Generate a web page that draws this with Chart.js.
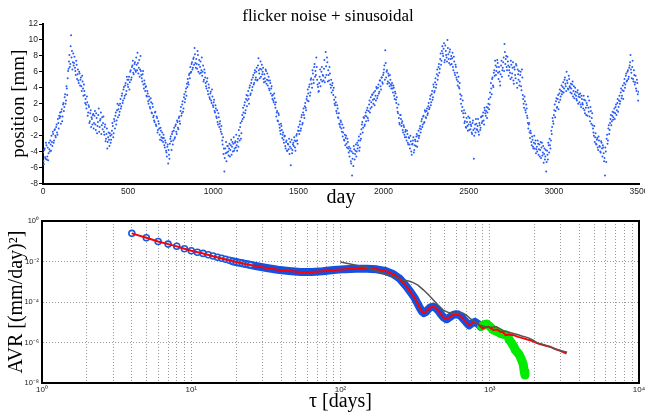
<!DOCTYPE html>
<html>
<head>
<meta charset="utf-8">
<script src="https://cdn.jsdelivr.net/npm/chart.js@4.4.0/dist/chart.umd.min.js"></script>
<style>
  body { margin: 0; background: #fff; }
  canvas { position: absolute; left: 0; }
  #top { top: 0; }
  #bottom { top: 205px; }
</style>
</head>
<body>
<canvas id="top" width="645" height="215"></canvas>
<canvas id="bottom" width="645" height="210"></canvas>
<script>
// top panel: position, two interleaved samplings (every 5 days)
const dayStep = 5;
const position = [
  -4.1,-5.6,-3.6,-4.9,-3.2,-4.6,-5.1,-2.9,-4.0,-3.1,
  -2.0,-3.3,-1.8,-2.6,-1.2,-2.2,-0.6,-1.9,-0.4,0.5,
  0.9,-0.5,1.3,0.4,2.1,1.6,3.2,2.4,3.9,5.2,
  6.4,8.1,7.0,10.6,8.6,7.2,6.8,7.9,6.1,7.4,
  5.1,6.3,4.6,5.8,5.0,4.2,5.5,3.9,4.4,3.1,
  2.6,1.4,2.2,0.9,1.6,-0.2,1.2,0.3,-0.6,0.7,
  -0.4,1.1,-1.3,0.2,-0.8,0.6,-1.5,-0.1,0.9,-0.7,
  -1.2,0.4,-1.9,-0.6,-2.4,-1.1,-2.8,-1.6,-3.3,-2.0,
  -2.5,-1.4,-0.8,-1.7,-0.2,0.5,-0.6,1.2,0.3,1.8,
  1.0,2.6,1.7,3.3,2.4,4.1,3.0,4.6,3.6,5.0,
  4.1,5.4,4.7,6.2,5.3,6.8,5.9,6.4,7.2,6.0,
  6.9,8.4,5.8,7.5,6.3,6.1,5.2,5.7,4.4,4.9,
  3.6,4.2,2.9,3.3,2.0,2.5,1.4,2.2,0.8,1.6,
  0.5,-0.3,1.0,-0.8,0.2,-1.3,-0.5,-1.9,-1.0,-2.2,
  -1.6,-2.8,-2.3,-3.5,-2.9,-4.1,-3.4,-5.5,-4.4,-3.0,
  -2.1,-3.8,-1.5,-2.6,-1.0,-2.2,-0.6,-1.8,-0.3,-1.2,
  0.4,-0.5,1.6,0.8,2.3,1.4,3.2,2.6,3.9,4.5,
  5.1,4.4,5.8,6.6,6.0,7.2,6.5,7.8,9.0,7.1,
  7.6,6.4,8.1,6.9,5.8,7.3,6.2,5.5,6.8,5.0,
  5.9,4.6,3.9,5.2,3.2,4.0,2.6,3.5,2.1,2.9,
  1.6,2.5,0.9,1.4,0.2,-0.3,0.8,-0.9,-0.2,-1.5,
  -1.8,-3.1,-4.3,-6.5,-3.6,-2.8,-4.1,-3.3,-4.5,-3.0,
  -3.8,-2.5,-3.4,-4.0,-2.2,-3.6,-2.7,-1.9,-3.9,-2.4,
  -1.3,-2.6,-0.4,-1.7,0.6,1.5,0.3,2.2,1.2,3.1,
  2.4,3.6,2.0,4.3,3.3,5.0,4.1,5.6,4.6,6.2,
  5.3,6.5,5.0,7.7,5.8,6.4,5.4,6.9,6.0,5.1,
  5.7,4.8,6.1,5.0,4.3,5.4,3.7,4.6,3.9,3.0,
  3.1,2.2,2.7,1.5,0.4,1.1,-0.2,0.6,-1.0,-1.8,
  -0.8,-2.3,-1.6,-2.9,-2.0,-3.6,-2.6,-3.9,-3.1,-2.4,
  -3.4,-5.7,-2.5,-3.8,-2.9,-2.2,-3.5,-2.7,-1.8,-3.0,
  -0.9,-1.8,-0.2,-1.1,0.6,-0.4,1.4,0.2,2.1,1.2,
  2.9,3.8,2.3,4.4,3.4,5.2,4.0,5.8,4.6,7.0,
  6.1,7.8,5.0,4.1,3.6,5.4,4.2,6.0,4.8,5.5,
  6.4,4.7,8.5,5.6,7.2,6.2,4.9,5.8,4.0,3.4,
  4.6,3.1,2.5,1.8,2.2,0.8,1.4,0.2,-0.5,-0.9,
  -0.3,-1.5,-2.1,-1.0,-2.6,-3.2,-2.0,-3.5,-2.8,-4.1,
  -4.6,-3.6,-5.5,-7.0,-4.2,-3.3,-5.0,-3.9,-4.6,-2.9,
  -3.2,-2.1,-3.5,-1.8,-1.2,-0.3,-1.0,0.2,-0.6,0.9,
  0.4,1.5,-0.1,1.9,0.9,2.8,1.6,3.2,2.0,2.6,
  3.6,2.4,3.9,3.0,4.4,3.5,4.9,3.8,5.3,4.5,
  5.9,6.8,8.7,5.3,6.2,4.8,5.5,4.2,5.0,3.9,
  4.6,3.4,4.0,2.6,3.3,2.1,1.5,0.8,0.2,-0.6,
  0.6,-0.8,-0.2,-1.6,-0.9,-2.2,-1.3,-2.6,-1.8,-3.1,
  -2.3,-3.6,-2.7,-4.4,-3.0,-2.2,-3.8,-2.5,-3.3,-1.8,
  -2.7,-1.4,-2.0,-0.8,-1.2,0.1,-0.6,0.5,-0.3,1.0,
  0.2,1.4,0.8,2.1,1.5,3.0,2.2,3.6,2.8,4.1,
  3.6,5.2,4.4,6.3,5.5,7.0,6.4,8.3,7.4,9.2,
  8.0,9.6,7.5,8.6,7.8,10.0,8.2,7.1,8.8,7.6,
  7.0,8.4,6.2,7.3,5.6,6.6,5.0,4.3,5.4,3.9,
  3.2,2.0,1.1,2.4,0.3,-0.4,0.8,-1.0,-0.3,-1.4,
  -0.6,0.2,-1.2,-0.8,-1.8,-0.1,-4.9,-1.1,-1.6,-0.5,
  -1.3,0.1,-1.9,-0.7,-1.0,0.4,-0.2,0.9,-0.6,1.2,
  0.5,1.6,0.9,2.0,1.3,3.4,4.6,3.2,5.3,4.1,
  6.2,7.4,5.6,6.6,7.1,5.1,6.0,4.3,6.8,5.4,
  6.5,7.8,9.5,7.0,8.0,6.2,7.3,5.5,6.6,5.1,
  6.9,5.8,7.2,4.5,6.3,5.2,6.8,4.0,5.7,6.1,
  4.8,6.0,3.7,5.3,2.6,1.5,2.3,0.9,1.4,0.2,
  -1.1,-0.4,-2.3,-1.7,-3.2,-2.5,-3.6,-2.0,-3.0,-4.2,
  -3.4,-2.6,-4.4,-3.1,-3.8,-4.8,-2.9,-4.1,-5.4,-3.6,
  -4.6,-6.5,-3.9,-5.0,-3.2,-2.4,-3.6,-1.4,-0.9,-0.2,
  0.6,1.9,1.1,2.7,1.6,3.1,2.2,3.8,2.9,4.3,
  3.5,4.7,3.9,5.3,4.2,6.0,4.6,3.8,5.1,4.0,
  4.5,3.3,4.8,3.6,2.7,4.0,3.0,2.4,3.7,2.9,
  2.2,3.3,1.6,2.6,1.9,3.0,1.2,2.4,0.6,1.8,
  2.9,1.0,0.4,1.6,-0.5,0.8,-1.1,-2.0,-2.8,-1.7,
  -3.1,-2.3,-3.8,-2.6,-3.4,-4.1,-2.9,-4.6,-3.5,-5.2,
  -7.0,-4.0,-2.4,-3.0,-1.1,-1.8,-0.4,0.6,-0.2,1.0,
  0.3,1.4,0.8,1.9,1.2,2.6,1.6,3.0,2.3,3.9,
  3.0,4.3,3.6,5.1,4.4,5.8,4.9,6.2,5.4,6.8,
  8.1,5.9,6.6,5.1,6.2,4.4,5.5,3.6,4.6,2.4
];
// second sampling, half a step later
const positionB = [
  -5.2,-3.8,-4.7,-2.9,-5.0,-3.5,-4.2,-3.7,-2.6,-3.9,
  -2.8,-1.5,-2.9,-1.3,-2.0,-0.9,-1.6,0.1,-1.1,0.2,
  0.4,1.0,-0.2,1.9,1.1,2.8,2.0,4.2,3.1,6.1,
  7.3,6.6,9.2,7.8,6.3,8.3,7.1,6.5,5.6,6.9,
  5.7,4.9,6.0,4.3,5.3,3.6,4.8,3.0,3.6,2.1,
  1.9,2.9,0.5,1.8,-0.4,0.8,-0.9,0.1,0.6,-1.1,
  0.5,-0.6,0.8,-1.7,-0.3,1.4,-0.9,0.1,-1.8,0.3,
  -0.4,-1.5,-0.9,-2.7,-1.8,-3.6,-2.2,-2.5,-1.7,-2.9,
  -1.9,-0.4,-2.2,0.1,-1.1,0.9,-0.1,2.0,1.3,0.6,
  2.0,1.4,3.0,2.1,3.8,2.7,4.3,3.2,5.4,4.4,
  5.0,3.8,6.0,5.0,6.6,7.4,5.7,7.0,6.2,7.8,
  6.2,7.1,6.5,5.4,8.0,5.6,4.8,6.1,3.9,4.5,
  4.1,3.0,3.6,2.3,2.9,1.6,2.7,0.9,2.0,0.3,
  -0.1,0.9,-0.6,0.4,-1.6,-0.2,-1.1,-2.5,-1.4,-2.6,
  -2.3,-1.9,-3.2,-2.6,-3.9,-4.6,-3.1,-3.8,-4.9,-2.4,
  -2.7,-1.8,-3.1,-1.4,-2.4,-0.8,-1.5,-0.1,-1.0,0.2,
  -0.2,1.1,0.5,1.9,1.0,2.8,2.2,3.5,3.0,4.1,
  4.7,5.6,5.2,5.9,7.0,6.3,7.6,6.9,8.2,6.5,
  7.0,8.6,6.0,7.5,6.6,5.9,7.8,6.0,4.8,6.3,
  5.3,4.2,4.8,3.6,4.4,2.8,3.3,2.4,3.8,1.8,
  2.2,1.1,1.8,0.4,1.2,-0.6,0.3,-0.5,-1.2,-0.8,
  -2.6,-2.2,-3.6,-4.8,-4.2,-5.2,-3.3,-4.0,-3.6,-4.6,
  -3.2,-4.4,-2.8,-3.0,-3.9,-2.9,-3.5,-3.2,-2.8,-3.4,
  -2.0,-0.9,-2.4,-0.2,0.1,0.9,1.8,0.8,2.6,1.7,
  3.0,2.6,4.0,3.1,4.6,3.7,5.3,4.4,5.9,5.0,
  6.0,4.9,6.8,6.2,5.2,7.3,6.3,5.7,6.5,4.7,
  5.2,6.3,4.5,5.8,4.9,3.9,4.9,3.3,4.2,2.6,
  2.4,3.3,1.9,2.2,0.9,-0.1,0.8,-0.6,-1.4,-0.5,
  -1.3,-1.9,-2.5,-2.1,-3.3,-2.8,-3.9,-3.0,-3.7,-4.3,
  -2.8,-3.6,-4.2,-3.1,-3.3,-2.6,-3.9,-2.0,-2.6,-1.4,
  -1.4,-0.6,-1.4,0.3,-0.6,0.9,0.6,1.7,1.5,2.6,
  2.4,3.3,4.1,3.0,5.0,4.5,6.2,5.0,6.6,5.4,
  5.6,6.6,4.4,3.5,4.6,6.3,5.0,6.6,5.6,4.9,
  7.5,5.3,6.7,7.8,4.8,5.6,6.6,4.4,5.0,4.3,
  3.7,4.0,2.0,2.8,1.1,1.8,0.3,0.8,-0.6,-0.1,
  -1.1,-0.6,-1.6,-2.5,-1.9,-2.3,-3.0,-2.4,-3.6,-3.4,
  -3.9,-5.2,-4.0,-4.9,-5.8,-3.7,-4.3,-3.1,-4.0,-3.6,
  -2.6,-3.9,-2.6,-2.4,-0.6,-1.6,0.3,-0.8,0.5,-0.2,
  1.2,0.2,1.1,2.4,1.4,2.2,3.1,2.5,3.4,1.8,
  3.0,4.1,2.7,4.0,3.3,4.9,4.2,5.3,4.7,5.6,
  6.3,5.0,7.1,6.0,4.5,5.8,4.6,5.6,4.4,4.3,
  3.9,4.3,3.0,3.5,2.5,2.8,1.0,1.9,-0.4,0.6,
  0.1,-0.4,-1.3,-0.7,-1.9,-1.5,-2.2,-1.4,-2.9,-2.2,
  -3.1,-2.0,-4.0,-3.1,-2.6,-4.1,-3.2,-2.7,-2.1,-3.4,
  -2.0,-2.3,-1.1,-1.6,-0.2,-0.9,0.4,-0.4,1.2,0.3,
  1.1,0.6,1.7,1.3,2.6,1.8,3.2,2.5,4.4,3.4,
  4.7,4.0,5.7,5.0,6.6,5.9,7.6,6.9,8.6,8.3,
  8.9,7.2,9.3,8.1,7.3,9.0,7.6,8.5,6.9,8.0,
  7.7,6.6,7.9,5.9,6.9,5.3,5.9,4.8,4.1,4.6,
  2.6,3.0,1.6,0.8,1.2,-0.2,-0.9,0.2,-0.8,0.4,
  -1.3,-0.3,-0.6,-1.6,-0.4,-1.3,-2.0,-0.6,0.1,-1.2,
  -0.8,-1.5,-0.4,-1.3,0.3,-0.4,0.5,-0.1,1.5,0.8,
  1.1,0.2,1.5,2.6,1.9,2.8,3.9,5.1,4.3,5.9,
  5.5,6.8,6.1,7.5,5.9,6.6,4.8,5.7,7.4,6.2,
  7.2,6.1,8.5,7.6,6.6,7.9,6.8,6.2,5.9,7.4,
  5.3,6.5,4.9,6.6,5.6,7.0,4.6,6.3,5.0,4.3,
  5.6,4.2,6.3,3.1,2.0,2.9,1.2,1.9,0.5,-0.4,
  -0.6,-1.6,-1.4,-2.8,-2.1,-3.4,-2.9,-3.6,-2.6,-3.7,
  -4.0,-3.0,-3.7,-4.6,-2.8,-3.5,-4.5,-3.3,-4.3,-5.0,
  -3.8,-5.3,-4.4,-2.9,-4.1,-3.2,-2.6,-1.8,0.2,-0.5,
  1.2,0.3,2.3,1.5,2.6,1.3,3.3,2.5,3.6,3.2,
  4.1,3.4,5.0,4.5,3.6,4.9,3.9,5.5,4.2,3.4,
  3.9,4.4,2.9,4.2,3.2,3.5,2.6,3.4,2.0,3.2,
  2.8,1.9,3.0,2.1,1.4,2.5,0.8,1.5,2.1,0.5,
  1.5,2.4,-0.2,1.1,0.2,-0.7,-1.6,-0.8,-2.2,-3.0,
  -2.5,-3.5,-2.1,-3.3,-4.0,-2.7,-3.6,-3.2,-4.2,-4.8,
  -3.5,-5.3,-1.9,-2.6,-0.7,-1.3,0.1,-0.7,0.5,0.0,
  0.9,0.1,1.6,0.6,2.1,1.0,2.4,2.0,3.4,2.7,
  3.7,2.6,4.6,4.0,5.5,4.8,6.0,5.1,6.5,7.2,
  6.3,5.2,7.4,4.8,5.6,4.7,3.9,5.0,3.2,3.5
];
const days = position.map((v, i) => i * dayStep);
const daysB = positionB.map((v, i) => i * dayStep + dayStep / 2);

// bottom panel: variance vs tau
const markTau = [4,5,6,7,8,9,10,11,12,13,14,15,16,17,18,19,20,21,22,23,24,25];
const markAvr = [0.245,0.148,0.0977,0.0724,0.0562,0.0427,0.0339,0.0288,0.0251,0.0214,0.0186,
  0.0162,0.0145,0.0129,0.0115,0.0102,0.00933,0.00871,0.00813,0.00759,0.00724,0.00676];

const bandTau = [19,23,27,32,38,45,54,64,76,90,107,127,150,175,200,225,250,277,300,315,330,341,352,362,375,
  387,400,419,435,452,470,490,514,540,570,595,616,640,664,695,726,760,795,838,870];
const bandAvr = [1.02e-2,7.6e-3,6.0e-3,4.8e-3,3.9e-3,3.4e-3,3.0e-3,3.0e-3,3.3e-3,3.8e-3,4.2e-3,4.4e-3,4.4e-3,
  4.1e-3,3.4e-3,2.4e-3,1.4e-3,5.8e-4,2.6e-4,1.5e-4,7.9e-5,4.9e-5,3.4e-5,2.8e-5,3.3e-5,4.4e-5,5.4e-5,5.9e-5,
  5.0e-5,3.8e-5,2.5e-5,1.74e-5,1.4e-5,1.78e-5,2.3e-5,2.5e-5,2.4e-5,2.0e-5,1.48e-5,1.0e-5,7.0e-6,8.9e-6,
  1.05e-5,8.1e-6,6.0e-6];

const redTau = [4,5,6,7,8,9,10,12,14,16,19,23,27,32,38,45,54,64,76,90,107,127,150,175,200,225,250,277,300,
  315,330,341,352,362,375,387,400,419,435,452,470,490,514,540,570,595,616,640,664,695,726,760,795,838,870,
  897,935,979,1020,1060,1120,1178,1230,1275,1350,1443,1550,1681,1859,2000,2162,2350,2536,2750,2971,3270];
const redAvr = [2.45e-1,1.48e-1,9.8e-2,7.2e-2,5.6e-2,4.3e-2,3.4e-2,2.5e-2,1.8e-2,1.4e-2,1.02e-2,7.6e-3,6.0e-3,
  4.8e-3,3.9e-3,3.4e-3,3.0e-3,3.0e-3,3.3e-3,3.8e-3,4.2e-3,4.4e-3,4.4e-3,4.1e-3,3.4e-3,2.4e-3,1.4e-3,5.8e-4,
  2.6e-4,1.5e-4,7.9e-5,4.9e-5,3.4e-5,2.95e-5,3.4e-5,4.4e-5,5.4e-5,5.9e-5,5.0e-5,3.8e-5,2.5e-5,1.74e-5,1.45e-5,
  1.78e-5,2.3e-5,2.45e-5,2.4e-5,2.0e-5,1.48e-5,1.0e-5,7.2e-6,8.9e-6,1.05e-5,8.1e-6,6.0e-6,4.9e-6,5.6e-6,
  6.0e-6,5.0e-6,4.2e-6,4.4e-6,3.4e-6,3.2e-6,2.3e-6,2.5e-6,2.3e-6,1.9e-6,1.6e-6,1.3e-6,1.05e-6,8.3e-7,7.1e-7,
  6.2e-7,4.7e-7,3.9e-7,2.8e-7];

const greenTau = [880,920,954,1000,1060,1120,1178,1240,1300,1350,1408,1450,1485,1520,1560,1600,1640,1680,1700,1720];
const greenAvr = [6.3e-6,7.6e-6,8.1e-6,6.3e-6,4.1e-6,3.5e-6,2.8e-6,2.5e-6,2.3e-6,1.4e-6,8.9e-7,6.3e-7,4.2e-7,
  3.5e-7,2.8e-7,2.0e-7,1.3e-7,7.9e-8,4.0e-8,2.5e-8];

const greyTau = [100,125,149,175,204,235,263,290,307,330,359,390,419,450,488,530,570,620,664,700,737,800,859,
  930,1005,1060,1111,1170,1232,1300,1443,1550,1640,1820,1950,2080,2250,2420,2600,2820,3050,3300];
const greyAvr = [9.5e-3,6.8e-3,5.0e-3,3.4e-3,2.2e-3,1.6e-3,1.23e-3,1.05e-3,9.1e-4,6.8e-4,4.0e-4,2.2e-4,1.26e-4,
  7.1e-5,4.0e-5,3.0e-5,2.75e-5,2.8e-5,2.75e-5,2.2e-5,1.55e-5,1.0e-5,7.2e-6,6.0e-6,5.5e-6,5.75e-6,6.0e-6,
  4.7e-6,3.8e-6,3.4e-6,2.8e-6,2.4e-6,2.1e-6,1.7e-6,1.3e-6,9.5e-7,8.3e-7,6.8e-7,5.6e-7,4.5e-7,3.8e-7,3.3e-7];

const yDecades = [1e-8,1e-6,1e-4,1e-2,1];

const serif = "'Liberation Serif', 'Times New Roman', serif";
const sans = "'Liberation Sans', Arial, sans-serif";

function pts(xs, ys) {
  return xs.map(function (x, i) { return { x: x, y: ys[i] }; });
}
function isPow10(v) {
  var e = Math.log10(v);
  return Math.abs(e - Math.round(e)) < 1e-9;
}
var sup = { "0": "⁰", "1": "¹", "2": "²", "3": "³", "4": "⁴", "5": "⁵", "6": "⁶", "7": "⁷", "8": "⁸", "-": "⁻" };
function powLabel(v) {
  var e = String(Math.round(Math.log10(v)));
  return "10" + e.split("").map(function (c) { return sup[c]; }).join("");
}

// ---- top chart ----
const topTitle = {
  id: "topTitle",
  afterDraw: function (chart) {
    var ctx = chart.ctx;
    ctx.save();
    ctx.font = "17px " + serif;
    ctx.fillStyle = "#000";
    ctx.textAlign = "center";
    ctx.textBaseline = "alphabetic";
    ctx.fillText("flicker noise + sinusoidal", 328, 21);
    ctx.restore();
  }
};

var dotStyle = { pointRadius: 1, pointBorderWidth: 0, pointBackgroundColor: "rgb(40,90,245)" };

new Chart(document.getElementById("top"), {
  type: "scatter",
  data: {
    datasets: [
      Object.assign({ data: pts(days, position) }, dotStyle),
      Object.assign({ data: pts(daysB, positionB) }, dotStyle)
    ]
  },
  options: {
    responsive: false,
    animation: false,
    layout: { padding: { top: 24, right: 6, left: 0, bottom: 0 } },
    plugins: { legend: { display: false }, tooltip: { enabled: false } },
    scales: {
      x: {
        type: "linear", min: 0, max: 3500,
        ticks: { stepSize: 500, font: { family: sans, size: 8.5 }, color: "#222", padding: 3, maxRotation: 0,
          callback: function (v) { return String(v); } },
        grid: { display: true, drawOnChartArea: false, drawTicks: false },
        border: { color: "#000", width: 2 },
        title: { display: true, text: "day", color: "#000", font: { family: serif, size: 20 }, padding: { top: 0, bottom: 5 } },
        afterFit: function (s) { s.height = 31.5; s.paddingLeft = 0; s.paddingRight = 0; }
      },
      y: {
        min: -8, max: 12,
        ticks: { stepSize: 2, font: { family: sans, size: 8.5 }, color: "#222", padding: 1 },
        grid: { drawOnChartArea: false, tickLength: 4, color: "#000" },
        border: { color: "#000", width: 2 },
        title: { display: true, text: "position [mm]", color: "#000", font: { family: serif, size: 19 }, padding: { top: 8, bottom: 0 } },
        afterFit: function (s) { s.width = 43; s.paddingTop = 0; s.paddingBottom = 0; }
      }
    }
  },
  plugins: [topTitle]
});

// ---- bottom chart ----
const frame = {
  id: "frame",
  afterDraw: function (chart) {
    var a = chart.chartArea, ctx = chart.ctx;
    ctx.save();
    ctx.strokeStyle = "#000";
    ctx.lineWidth = 2;
    ctx.strokeRect(a.left, a.top, a.right - a.left, a.bottom - a.top);
    ctx.restore();
  }
};

var xTickVals = [];
for (var d = 1; d < 10000; d *= 10) {
  for (var m = 1; m < 10; m++) xTickVals.push(m * d);
}
xTickVals.push(10000);

new Chart(document.getElementById("bottom"), {
  type: "line",
  data: {
    datasets: [
      { data: pts(greyTau, greyAvr), borderColor: "rgb(85,85,85)", borderWidth: 1.5, pointRadius: 0 },
      { data: pts(redTau, redAvr), borderColor: "rgb(255,0,0)", borderWidth: 2, pointRadius: 0 },
      { data: pts(greenTau, greenAvr), borderColor: "rgb(0,235,0)", borderWidth: 9, pointRadius: 0, borderCapStyle: "round", borderJoinStyle: "round" },
      { data: pts(markTau, markAvr), showLine: false, pointRadius: 3, pointBorderWidth: 1.6,
        pointBorderColor: "rgb(20,90,225)", pointBackgroundColor: "rgba(255,255,255,0.6)" },
      { data: pts(bandTau, bandAvr), borderColor: "rgb(20,80,225)", borderWidth: 8, pointRadius: 0, borderCapStyle: "round", borderJoinStyle: "round" }
    ]
  },
  options: {
    responsive: false,
    animation: false,
    layout: { padding: { top: 16, right: 6, left: 0, bottom: 0 } },
    plugins: { legend: { display: false }, tooltip: { enabled: false } },
    scales: {
      x: {
        type: "logarithmic", min: 1, max: 10000,
        afterBuildTicks: function (s) { s.ticks = xTickVals.map(function (v) { return { value: v }; }); },
        ticks: { autoSkip: false, maxRotation: 0, font: { family: sans, size: 8 }, color: "#222", padding: 2,
          callback: function (v) { return isPow10(v) ? powLabel(v) : ""; } },
        grid: { drawTicks: false, color: "#999" },
        border: { color: "#000", width: 2, dash: [1, 2] },
        title: { display: true, text: "τ [days]", color: "#000", font: { family: serif, size: 20 }, padding: { top: 0, bottom: 1 } },
        afterFit: function (s) { s.height = 32; s.paddingLeft = 0; s.paddingRight = 0; }
      },
      y: {
        type: "logarithmic", min: 1e-8, max: 1,
        afterBuildTicks: function (s) { s.ticks = yDecades.map(function (v) { return { value: v }; }); },
        ticks: { autoSkip: false, font: { family: sans, size: 7.5 }, color: "#222", padding: 3,
          callback: function (v) { return powLabel(v); } },
        grid: { drawTicks: false, color: "#999" },
        border: { color: "#000", width: 2, dash: [1, 2] },
        title: { display: true, text: "AVR [(mm/day)²]", color: "#000", font: { family: serif, size: 20 }, padding: { top: 5, bottom: 0 } },
        afterFit: function (s) { s.width = 42; s.paddingTop = 0; s.paddingBottom = 0; }
      }
    }
  },
  plugins: [frame]
});
</script>
</body>
</html>
